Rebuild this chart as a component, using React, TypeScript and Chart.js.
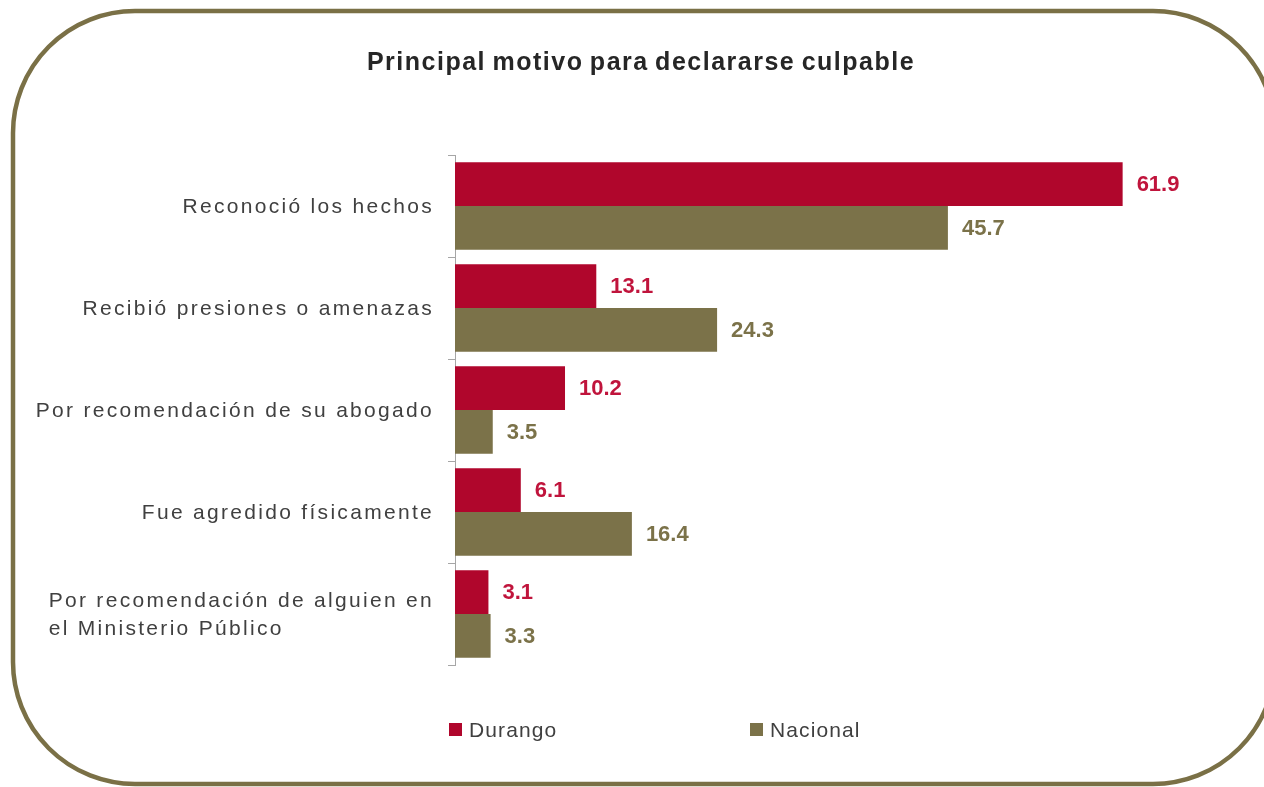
import React, { useEffect, useRef } from "react";
import { Chart, registerables } from "chart.js";

Chart.register(...registerables);

const title = "Principal motivo para declararse culpable";
const categories: (string | string[])[] = [
  "Reconoció los hechos",
  "Recibió presiones o amenazas",
  "Por recomendación de su abogado",
  "Fue agredido físicamente",
  ["Por recomendación de alguien en", "el Ministerio Público"],
];
const durango = [61.9, 13.1, 10.2, 6.1, 3.1];
const nacional = [45.7, 24.3, 3.5, 16.4, 3.3];
const seriesNames = ["Durango", "Nacional"];
const barColors = ["#B0062C", "#7B7249"];
const labelColors = ["#C0143C", "#7B7249"];

const FONT = "'Liberation Sans', Arial, sans-serif";

const decorPlugin = {
  id: "decor",
  beforeDraw(chart: any) {
    const ctx = chart.ctx;
    ctx.save();
    // rounded frame
    const x = 13, y = 11, w = 1262, h = 773, r = 122;
    ctx.beginPath();
    ctx.moveTo(x + r, y);
    ctx.lineTo(x + w - r, y);
    ctx.arcTo(x + w, y, x + w, y + r, r);
    ctx.lineTo(x + w, y + h - r);
    ctx.arcTo(x + w, y + h, x + w - r, y + h, r);
    ctx.lineTo(x + r, y + h);
    ctx.arcTo(x, y + h, x, y + h - r, r);
    ctx.lineTo(x, y + r);
    ctx.arcTo(x, y, x + r, y, r);
    ctx.closePath();
    ctx.lineWidth = 4.5;
    ctx.strokeStyle = "#7A7046";
    ctx.stroke();

    // title
    ctx.fillStyle = "#262626";
    ctx.font = `bold 25px ${FONT}`;
    (ctx as any).letterSpacing = "1.5px";
    (ctx as any).wordSpacing = "-2px";
    ctx.textAlign = "center";
    ctx.textBaseline = "middle";
    ctx.fillText(title, 641, 63);
    (ctx as any).wordSpacing = "0px";
    ctx.restore();
  },
  afterDraw(chart: any) {
    const ctx = chart.ctx;
    const yScale = chart.scales.y;
    ctx.save();
    // category labels
    ctx.font = `21px ${FONT}`;
    (ctx as any).letterSpacing = "2.3px";
    ctx.fillStyle = "#404040";
    ctx.textBaseline = "middle";
    const rightX = 434;
    categories.forEach((lab, i) => {
      const cy = yScale.getPixelForValue(i);
      if (Array.isArray(lab)) {
        const widths = lab.map((l) => ctx.measureText(l).width);
        const maxW = Math.max(...widths);
        ctx.textAlign = "left";
        const lh = 28;
        lab.forEach((l, j) => {
          ctx.fillText(l, rightX - maxW, cy + 1 + (j - (lab.length - 1) / 2) * lh);
        });
      } else {
        ctx.textAlign = "right";
        ctx.fillText(lab, rightX, cy + 1);
      }
    });

    // value labels
    (ctx as any).letterSpacing = "0px";
    ctx.font = `bold 22px ${FONT}`;
    ctx.textAlign = "left";
    chart.data.datasets.forEach((ds: any, di: number) => {
      const meta = chart.getDatasetMeta(di);
      ctx.fillStyle = labelColors[di];
      meta.data.forEach((bar: any, i: number) => {
        ctx.fillText(ds.data[i].toFixed(1), bar.x + 14, bar.y + 1);
      });
    });

    // legend
    const items = [
      { x: 449, name: seriesNames[0], color: barColors[0] },
      { x: 750, name: seriesNames[1], color: barColors[1] },
    ];
    ctx.font = `21px ${FONT}`;
    (ctx as any).letterSpacing = "1.1px";
    items.forEach((it) => {
      ctx.fillStyle = it.color;
      ctx.fillRect(it.x, 723, 13, 13);
      ctx.fillStyle = "#404040";
      ctx.fillText(it.name, it.x + 20, 731);
    });
    ctx.restore();
  },
};

export default function App() {
  const ref = useRef<HTMLCanvasElement>(null);
  useEffect(() => {
    document.body.style.margin = "0";
    const chart = new Chart(ref.current!, {
      type: "bar",
      data: {
        labels: categories.map((c) => (Array.isArray(c) ? c.join(" ") : c)),
        datasets: [
          { label: seriesNames[0], data: durango, backgroundColor: barColors[0] },
          { label: seriesNames[1], data: nacional, backgroundColor: barColors[1] },
        ],
      },
      options: {
        indexAxis: "y",
        animation: false,
        responsive: false,
        events: [],
        layout: { padding: { left: 0, top: 155, bottom: 122, right: 54 } },
        datasets: { bar: { categoryPercentage: 0.86, barPercentage: 1 } },
        plugins: {
          legend: { display: false },
          title: { display: false },
          tooltip: { enabled: false },
        },
        scales: {
          x: { display: false, min: 0, max: 70 },
          y: {
            display: true,
            ticks: { display: false },
            grid: {
              drawOnChartArea: false,
              drawTicks: true,
              tickLength: 7,
              color: "#A6A6A6",
              offset: true,
            },
            border: { display: true, color: "#A6A6A6", width: 1 },
            afterFit: (scale: any) => {
              scale.width = 455;
            },
          },
        },
      },
      plugins: [decorPlugin],
    });
    return () => chart.destroy();
  }, []);
  return (
    <div style={{ position: "absolute", left: 0, top: 0, width: 1264, height: 787 }}>
      <canvas ref={ref} width={1264} height={787} style={{ display: "block" }} />
    </div>
  );
}
